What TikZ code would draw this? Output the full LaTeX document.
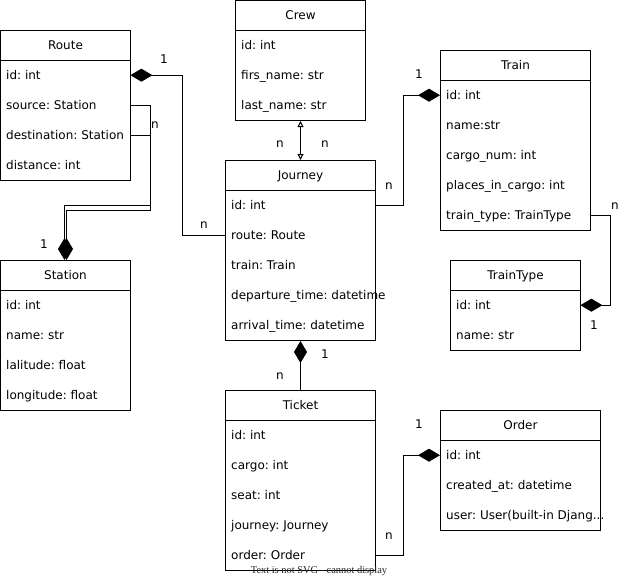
\documentclass[tikz,border=0pt]{standalone}
\usepackage{fontspec}
\setmainfont{DejaVu Sans}
\newfontfamily\notefont{Liberation Serif}
\usetikzlibrary{arrows.meta,calc}
\frenchspacing

\tikzset{
  frame/.style={draw, line width=1pt, inner sep=0pt},
  hdr/.style={draw, line width=1pt, minimum height=30, inner sep=0pt,
    text height=10pt, text depth=2pt},
  row/.style={inner xsep=6pt, inner ysep=0pt, minimum height=30,
    text height=10pt, text depth=2pt},
  link/.style={line width=1pt},
  comp/.style={link, -{Diamond[length=22pt,width=13pt]}},
  assoc/.style={link, {Triangle[open,length=6pt,width=6pt]}-{Triangle[open,length=6pt,width=6pt]}},
  mult/.style={inner sep=0pt, text height=10pt, text depth=2pt},
}

% truncated text marker
\newcommand\cut{...}

% \umlclass{name}{x}{y}{width}{height}{title}{attributes}
\newcommand\umlclass[7]{%
  \node[frame, minimum width=#4, minimum height=#5, anchor=north west] (#1) at (#2,#3) {};
  \node[hdr, minimum width=#4, anchor=north west] (#1-h) at (#2,#3) {#6};
  \pgfmathsetmacro\tw{#4-12}%
  \foreach \r [count=\i] in {#7} {
    \pgfmathsetmacro\yy{#3+30*\i}%
    \node[row, anchor=north west] (#1-\i) at (#2,\yy) {\makebox[\tw pt][l]{\r}};
  }%
}

\begin{document}
\begin{tikzpicture}[x=1pt, y=-1pt, font=\fontsize{12}{14}\selectfont]
\useasboundingbox (0,0) rectangle (634,579);

\umlclass{route}{0}{30}{130}{150}{Route}{id: int, source: Station, destination: Station, distance: int}
\umlclass{crew}{235}{0}{130}{120}{Crew}{id: int, firs\_name: str, last\_name: str}
\umlclass{train}{440}{50}{150}{180}{Train}{id: int, name:str, cargo\_num: int, places\_in\_cargo: int, train\_type: TrainType}
\umlclass{journey}{225}{160}{150}{180}{Journey}{id: int, route: Route, train: Train, departure\_time: datetime, arrival\_time: datetime}
\umlclass{station}{0}{260}{130}{150}{Station}{id: int, name: str, lalitude: float, longitude: float}
\umlclass{tt}{450}{260}{130}{90}{TrainType}{id: int, name: str}
\umlclass{ticket}{225}{390}{150}{180}{Ticket}{id: int, cargo: int, seat: int, journey: Journey, order: Order}
\umlclass{order}{440}{410}{160}{120}{Order}{id: int, created\_at: datetime, user: User(built-in Djang\cut}

% Journey -> Route
\draw[comp] (journey-2.west) -- ++(-43,0) |- (route-1.east);
\node[mult] (m-rj1) at (164,59) {1};
\node[mult] (m-rj2) at (204,224) {n};

% Route -> Station (source and destination)
\draw[comp] (route-2.east) -- ++(20,0) -- ++(0,100) -| ([xshift=-1pt]station-h.north);
\draw[comp] (route-3.east) -- ++(20,0) -- ++(0,75) -| ([xshift=1pt]station-h.north);
\node[mult] (m-rs1) at (155,124) {n};
\node[mult] (m-rs2) at (44,244) {1};

% Crew <-> Journey
\draw[assoc] (crew.south) -- (journey-h.north);
\node[mult] (m-cj1) at (280,143) {n};
\node[mult] (m-cj2) at (325,143) {n};

% Journey -> Train
\draw[comp] (journey-1.east) -- ++(28,0) |- (train-1.west);
\node[mult] (m-jt1) at (419,74) {1};
\node[mult] (m-jt2) at (389,185) {n};

% Train -> TrainType
\draw[comp] (train-5.east) -- ++(20,0) |- (tt-1.east);
\node[mult] (m-tt1) at (615,205) {n};
\node[mult] (m-tt2) at (594,325) {1};

% Ticket -> Journey
\draw[comp] (ticket-h.north) -- (journey.south);
\node[mult] (m-tj1) at (325,354) {1};
\node[mult] (m-tj2) at (280,375) {n};

% Ticket -> Order
\draw[comp] (ticket-5.east) -- ++(28,0) |- (order-1.west);
\node[mult] (m-to1) at (419,424) {1};
\node[mult] (m-to2) at (389,535) {n};

\node[inner sep=0pt, font=\notefont\fontsize{10.4}{12}\selectfont, text=black!85] (note) at (319,571) {Text is not SVG - cannot display};
\end{tikzpicture}
\end{document}
